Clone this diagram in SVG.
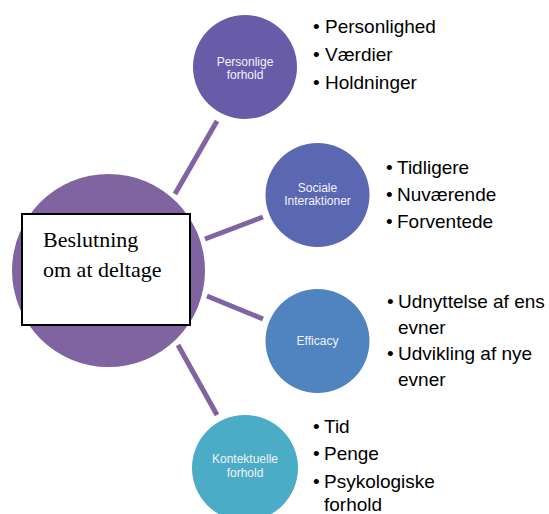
<svg xmlns="http://www.w3.org/2000/svg" width="549" height="514" viewBox="0 0 549 514">
<style>
.lbl{font-family:"Liberation Sans",Arial,sans-serif;font-size:12px;fill:#F2F2F8;text-anchor:middle}
.bul{font-family:"Liberation Sans",Arial,sans-serif;font-size:19px;fill:#000}
.main{font-family:"Liberation Serif","Times New Roman",serif;font-size:22px;fill:#000}
.conn line{stroke:#8064A2;stroke-width:5}
</style>
<rect width="549" height="514" fill="#fff"/>
<g id="connectors" class="conn">
<line x1="175" y1="194" x2="217" y2="121"/>
<line x1="205" y1="239" x2="263" y2="217"/>
<line x1="207" y1="296" x2="263" y2="319"/>
<line x1="178" y1="345" x2="217" y2="415"/>
</g>
<g id="center">
<circle cx="108.5" cy="270.5" r="96.5" fill="#8064A2"/>
<rect x="22" y="214" width="168" height="111" fill="#fff" stroke="#000" stroke-width="2"/>
<text class="main" x="43" y="247">Beslutning</text>
<text class="main" x="43" y="277">om at deltage</text>
</g>
<g id="personlige">
<circle cx="245" cy="67" r="52" fill="#685CA8"/>
<text class="lbl" x="245" y="66">Personlige</text>
<text class="lbl" x="245" y="79">forhold</text>
</g>
<g id="personlige-list">
<text class="bul" x="313" y="33">•</text><text class="bul" x="325" y="33">Personlighed</text>
<text class="bul" x="313" y="61">•</text><text class="bul" x="325" y="61">Værdier</text>
<text class="bul" x="313" y="89">•</text><text class="bul" x="325" y="89">Holdninger</text>
</g>
<g id="sociale">
<circle cx="317.5" cy="195" r="52" fill="#5A67B1"/>
<text class="lbl" x="317.5" y="192">Sociale</text>
<text class="lbl" x="317.5" y="205">Interaktioner</text>
</g>
<g id="sociale-list">
<text class="bul" x="386" y="174">•</text><text class="bul" x="397" y="174">Tidligere</text>
<text class="bul" x="386" y="201">•</text><text class="bul" x="397" y="201">Nuværende</text>
<text class="bul" x="386" y="228">•</text><text class="bul" x="397" y="228">Forventede</text>
</g>
<g id="efficacy">
<circle cx="317.5" cy="341" r="52" fill="#4F84BF"/>
<text class="lbl" x="317.5" y="345">Efficacy</text>
</g>
<g id="efficacy-list">
<text class="bul" x="387" y="308">•</text><text class="bul" x="398" y="308">Udnyttelse af ens</text>
<text class="bul" x="398" y="334">evner</text>
<text class="bul" x="387" y="360">•</text><text class="bul" x="398" y="360">Udvikling af nye</text>
<text class="bul" x="398" y="386">evner</text>
</g>
<g id="kontektuelle">
<circle cx="245" cy="468" r="53" fill="#4BACC6"/>
<text class="lbl" x="245" y="463">Kontektuelle</text>
<text class="lbl" x="245" y="477">forhold</text>
</g>
<g id="kontektuelle-list">
<text class="bul" x="313" y="433">•</text><text class="bul" x="324" y="433">Tid</text>
<text class="bul" x="313" y="460">•</text><text class="bul" x="324" y="460">Penge</text>
<text class="bul" x="313" y="488">•</text><text class="bul" x="324" y="488">Psykologiske</text>
<text class="bul" x="324" y="511">forhold</text>
</g>
</svg>
